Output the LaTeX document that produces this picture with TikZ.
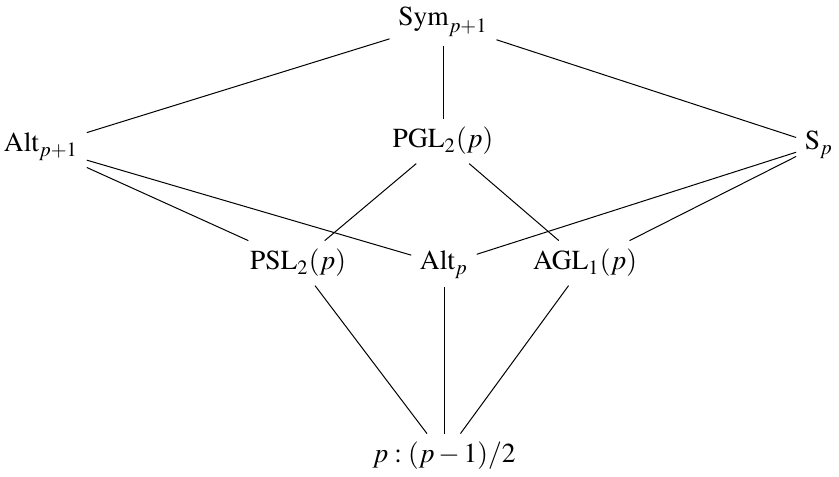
\documentclass[tikz,border=0pt]{standalone}
\usepackage{mathptmx}
\usepackage[no-math]{fontspec}
\setmainfont{Liberation Serif}
\begin{document}
\begin{tikzpicture}[x=0.4pt,y=-0.4pt,
  grp/.style={anchor=base,inner sep=3.3pt,font=\fontsize{11}{13}\selectfont},
  edge/.style={draw=black,line width=0.4pt}]
\useasboundingbox (0,0) rectangle (839,477);
% subgroup lattice
\node[grp] (sym)  at (443,26)  {$\mathrm{Sym}_{p+1}$};
\node[grp] (altp1) at (41,152) {$\mathrm{Alt}_{p+1}$};
\node[grp] (pgl)  at (443,148) {$\mathrm{PGL}_2(p)$};
\node[grp] (sp)   at (819,150) {$\mathrm{S}_p$};
\node[grp] (psl)  at (298,270) {$\mathrm{PSL}_2(p)$};
\node[grp] (altp) at (444,270) {$\mathrm{Alt}_p$};
\node[grp] (agl)  at (585,270) {$\mathrm{AGL}_1(p)$};
\node[grp] (bot)  at (444,463) {$p:(p-1)/2$};
\draw[edge] (sym) -- (altp1);
\draw[edge] (sym) -- (pgl);
\draw[edge] (sym) -- (sp);
\draw[edge] (altp1) -- (psl);
\draw[edge] (altp1) -- (altp);
\draw[edge] (pgl) -- (psl);
\draw[edge] (pgl) -- (agl);
\draw[edge] (sp) -- (altp);
\draw[edge] (sp) -- (agl);
\draw[edge] (psl) -- (bot);
\draw[edge] (altp) -- (bot);
\draw[edge] (agl) -- (bot);
\end{tikzpicture}
\end{document}
